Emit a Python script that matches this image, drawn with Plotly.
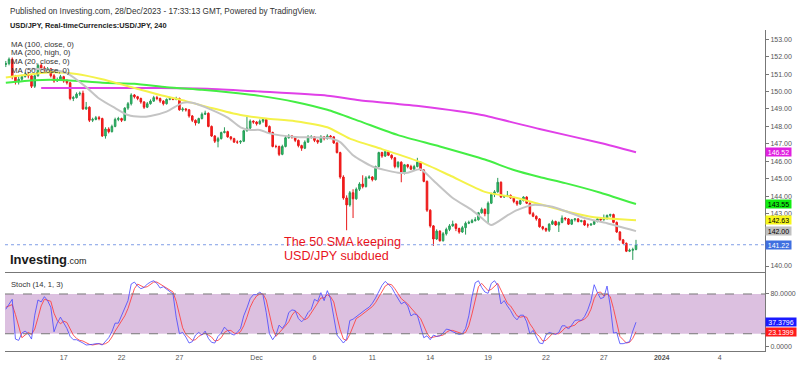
import pandas as pd
import plotly.graph_objects as go

# ---------------- data ----------------
bar_days = pd.bdate_range("2023-11-14", "2023-12-28")
bar_times = [d + pd.Timedelta(hours=4 * k) for d in bar_days for k in range(6)][:197]

opens = [151.55,151.60,151.85,150.85,150.55,150.70,150.85,151.00,150.90,150.30,150.90,151.50,151.35,151.25,151.30,150.90,150.60,150.65,150.85,150.60,
         150.50,149.60,149.65,149.85,149.90,149.00,149.10,148.35,148.40,148.50,148.45,147.45,147.85,147.70,148.00,148.40,148.45,148.35,149.05,149.30,
         149.80,149.70,149.60,149.40,149.10,149.30,149.45,149.65,149.60,149.45,149.30,149.55,149.60,149.55,149.60,148.95,149.00,148.95,148.60,148.35,
         148.20,148.45,148.70,148.75,148.00,147.45,147.15,147.30,147.65,147.70,147.40,147.30,147.10,147.10,147.15,147.75,147.90,148.30,148.25,148.15,
         148.30,148.40,148.00,147.65,146.85,146.85,146.40,146.85,147.35,147.45,147.40,147.20,146.90,146.75,147.10,147.40,147.40,147.20,147.10,147.40,
         147.30,147.45,147.40,147.05,146.50,145.10,143.90,143.50,144.20,143.85,144.40,144.70,144.55,145.05,145.10,144.95,145.70,146.50,146.30,146.55,
         146.35,146.20,145.70,145.95,145.30,145.80,145.70,145.55,145.70,145.95,145.50,144.85,143.20,142.30,141.55,142.00,141.45,141.85,142.10,142.30,
         142.40,142.15,141.95,142.20,142.45,142.50,142.60,142.65,143.05,143.25,143.00,143.60,144.10,144.25,144.80,143.95,144.00,144.05,143.90,143.70,
         143.55,143.75,143.95,143.60,143.00,142.85,142.70,142.25,142.15,142.05,142.40,142.55,142.35,142.50,142.75,142.70,142.40,142.65,142.70,142.55,
         142.60,142.35,142.35,142.40,142.55,142.70,142.65,142.75,142.90,142.95,142.50,141.95,141.50,141.30,140.85,140.90,140.95]
highs = [151.75,151.95,151.95,150.95,150.85,150.95,151.10,151.10,150.95,151.00,151.60,151.60,151.45,151.40,151.35,151.00,150.80,150.95,150.90,150.70,
         150.55,149.75,149.95,150.00,150.05,149.40,149.15,148.50,148.60,148.60,148.50,147.95,147.95,148.10,148.50,148.55,148.50,149.10,149.40,149.90,
         149.85,149.75,149.65,149.45,149.40,149.55,149.75,149.75,149.65,149.50,149.60,149.70,149.65,149.70,149.65,149.10,149.05,149.00,148.65,148.40,
         148.50,148.80,148.90,148.80,148.05,147.50,147.40,147.70,147.95,147.75,147.45,147.35,147.20,147.20,147.80,148.55,148.40,148.35,148.30,148.40,
         148.45,148.45,148.05,147.70,146.95,146.90,146.95,147.45,147.55,147.50,147.45,147.25,146.95,147.20,147.50,147.50,147.45,147.25,147.50,147.45,
         147.55,147.50,147.45,147.10,146.55,145.20,144.05,144.30,144.40,144.50,144.80,145.20,145.15,145.20,145.15,145.75,146.55,146.55,146.65,146.60,
         146.40,146.25,146.00,146.00,145.85,145.85,145.80,145.80,146.20,146.00,145.55,144.90,143.25,142.35,142.10,142.05,141.95,142.20,142.40,142.60,
         142.45,142.20,142.30,142.55,142.60,142.70,142.80,143.10,143.35,143.30,143.70,144.20,144.35,145.05,144.85,144.05,144.30,144.10,143.95,143.75,
         143.80,144.00,144.00,143.65,143.10,142.90,142.75,142.30,142.20,142.45,142.65,142.60,142.55,142.90,142.80,142.75,142.70,142.75,142.75,142.65,
         142.65,142.45,142.45,142.60,142.75,142.75,142.95,142.95,143.00,143.00,142.55,142.00,141.55,141.35,141.00,141.05,141.50]
lows = [151.40,151.50,150.70,150.40,150.40,150.60,150.80,150.75,150.20,150.20,150.85,151.30,151.15,151.20,150.80,150.50,150.55,150.60,150.50,150.40,
        149.50,149.45,149.60,149.75,148.95,148.95,148.25,148.25,148.35,148.35,147.40,147.30,147.60,147.65,147.95,148.30,148.25,148.30,148.95,149.20,
        149.60,149.50,149.30,149.00,149.05,149.25,149.40,149.50,149.35,149.20,149.25,149.50,149.50,149.50,148.90,148.85,148.85,148.50,148.25,148.05,
        148.15,148.40,148.65,147.95,147.40,147.05,146.80,147.25,147.60,147.35,147.20,147.05,147.00,147.00,147.10,147.70,147.85,148.15,148.05,148.10,
        148.20,147.95,147.60,146.80,146.75,146.30,146.35,146.80,147.30,147.30,147.10,146.80,146.60,146.70,147.05,147.30,147.10,147.00,147.05,147.20,
        147.25,147.30,147.00,146.45,145.00,143.80,142.05,143.40,142.75,143.80,144.30,144.45,144.50,145.00,144.85,144.90,145.65,146.20,146.25,146.30,
        146.10,145.60,145.60,144.80,145.25,145.60,145.50,145.50,145.65,145.45,144.80,143.10,142.20,141.15,141.50,141.40,141.40,141.75,142.00,142.25,
        142.00,141.85,141.90,141.80,142.40,142.45,142.55,142.60,143.00,142.85,142.40,143.55,143.95,144.20,143.90,143.90,143.95,143.85,143.60,143.45,
        143.50,143.70,143.55,142.95,142.80,142.60,142.20,142.05,141.95,141.95,142.35,142.30,141.95,142.45,142.60,142.35,142.35,142.55,142.50,142.50,
        142.30,142.20,142.30,142.35,142.50,142.55,142.60,142.65,142.80,142.45,141.90,141.45,141.25,140.80,140.80,140.35,140.90]
closes = [151.60,151.85,150.85,150.55,150.70,150.85,151.00,150.90,150.30,150.90,151.50,151.35,151.25,151.30,150.90,150.60,150.65,150.85,150.60,150.50,
          149.60,149.65,149.85,149.90,149.00,149.10,148.35,148.40,148.50,148.45,147.45,147.85,147.70,148.00,148.40,148.45,148.35,149.05,149.30,149.80,
          149.70,149.60,149.40,149.10,149.30,149.45,149.65,149.60,149.45,149.30,149.55,149.60,149.55,149.60,148.95,149.00,148.95,148.60,148.35,148.20,
          148.45,148.70,148.75,148.00,147.45,147.15,147.30,147.65,147.70,147.40,147.30,147.10,147.10,147.15,147.75,147.90,148.30,148.25,148.15,148.30,
          148.40,148.00,147.65,146.85,146.85,146.40,146.85,147.35,147.45,147.40,147.20,146.90,146.75,147.10,147.40,147.40,147.20,147.10,147.40,147.30,
          147.45,147.40,147.05,146.50,145.10,143.90,143.50,144.20,143.85,144.40,144.70,144.55,145.05,145.10,144.95,145.70,146.50,146.30,146.55,146.35,
          146.20,145.70,145.95,145.30,145.80,145.70,145.55,145.70,145.95,145.50,144.85,143.20,142.30,141.55,142.00,141.45,141.85,142.10,142.30,142.40,
          142.15,141.95,142.20,142.45,142.50,142.60,142.65,143.05,143.25,143.00,143.60,144.10,144.25,144.80,143.95,144.00,144.05,143.90,143.70,143.55,
          143.75,143.95,143.60,143.00,142.85,142.70,142.25,142.15,142.05,142.40,142.55,142.35,142.50,142.75,142.70,142.40,142.65,142.70,142.55,142.60,
          142.35,142.35,142.40,142.55,142.70,142.65,142.75,142.90,142.95,142.50,141.95,141.50,141.30,140.85,140.90,140.95,141.22]

ma100_bars = [0, 9, 19, 30, 40, 50, 61, 70, 79, 90, 100, 110, 122, 135, 149, 158, 166, 174, 185, 196]
ma100_vals = [150.5, 150.65, 150.65, 150.5, 150.45, 150.25, 150.1, 149.95, 149.75, 149.4, 148.95, 148.3, 147.5, 146.85, 146.1, 145.5, 145.1, 144.75, 144.2, 143.55]
ma200_bars = [11, 30, 48, 64, 79, 100, 110, 129, 148, 166, 185, 196]
ma200_vals = [150.2, 150.2, 150.2, 150.15, 150.0, 149.76, 149.5, 149.15, 148.65, 147.85, 147.05, 146.52]
ma50_bars = [0, 14, 22, 30, 40, 48, 56, 64, 73, 81, 90, 100, 107, 117, 129, 138, 149, 159, 165, 175, 183, 196]
ma50_vals = [150.8, 151.1, 151.0, 150.7, 150.2, 149.8, 149.45, 149.05, 148.65, 148.45, 148.3, 147.95, 147.3, 146.7, 145.95, 145.2, 144.25, 143.9, 143.6, 143.1, 142.8, 142.63]
ma20_bars = [8, 16, 19, 25, 29, 34, 38, 42, 45, 50, 55, 58, 64, 69, 73, 76, 79, 82, 90, 100, 104, 108, 114, 122, 125, 129, 133, 139, 145, 148, 151, 156, 159, 164, 170, 180, 187, 196]
ma20_vals = [151.3, 151.2, 151.05, 150.25, 149.6, 149.05, 148.65, 148.55, 148.6, 148.85, 149.35, 149.35, 148.95, 148.5, 147.95, 147.8, 147.8, 147.6, 147.4, 147.35, 147.1, 146.35, 145.7, 145.35, 145.35, 145.55, 144.9, 143.9, 143.2, 142.75, 142.35, 142.9, 143.2, 143.5, 143.4, 142.75, 142.45, 142.0]

stoch_k = [57,64,72,12,10,21,24,20,12,48,71,68,76,70,60,23,36,45,37,28,16,11,11,9,6,3,3,4,5,5,3,8,14,23,36,36,47,57,70,95,
           98,92,88,90,95,98,100,96,89,91,87,83,80,45,20,22,15,6,8,18,22,18,24,13,7,6,16,21,30,25,20,18,22,28,47,59,73,79,79,83,
           78,52,20,11,18,33,28,35,52,56,55,43,38,43,52,57,72,69,82,70,85,73,47,18,12,6,12,40,42,46,50,54,57,60,66,74,84,93,99,94,
           90,81,73,65,68,62,47,50,48,31,14,17,11,18,16,17,21,27,26,23,21,19,20,28,47,76,97,100,90,83,81,96,100,93,65,70,62,55,46,41,
           48,48,38,20,25,16,6,5,18,22,20,19,22,32,32,27,33,40,41,40,46,56,70,94,82,73,75,92,62,21,22,5,5,7,8,24,37.3796]
stoch_d = [60,62,64,49,31,14,18,22,19,27,44,62,72,71,69,51,40,35,39,37,27,18,13,10,9,6,4,3,4,5,4,5,8,15,24,32,40,47,58,74,
           88,95,93,90,91,94,98,98,95,92,89,87,83,69,48,29,19,14,10,11,16,19,21,18,15,9,10,14,22,25,25,21,20,23,32,45,60,70,77,80,
           80,71,50,28,16,21,26,32,38,48,54,51,45,41,44,51,60,66,74,74,79,76,68,46,26,12,10,19,31,43,46,50,54,57,61,67,75,84,92,95,
           94,88,81,73,69,65,59,53,48,43,31,21,14,15,15,17,18,22,25,25,23,21,20,22,32,50,73,91,96,91,85,87,92,96,86,76,66,62,54,47,
           45,46,45,35,28,20,16,9,10,15,20,20,20,24,29,30,31,33,38,40,42,47,57,73,82,83,77,80,76,58,35,16,11,6,7,13,23.1399]

price_ticks = [140, 141, 142, 143, 144, 145, 146, 147, 148, 149, 150, 151, 152, 153]
price_tick_text = ["140.00", "", "", "143.00", "144.00", "145.00", "146.00", "147.00", "148.00",
                   "149.00", "150.00", "151.00", "152.00", "153.00"]
x_tick_dates = ["2023-11-17", "2023-11-22", "2023-11-27", "2023-12-01", "2023-12-06", "2023-12-11",
                "2023-12-14", "2023-12-19", "2023-12-22", "2023-12-27", "2024-01-01", "2024-01-04"]
x_tick_text = ["17", "22", "27", "Dec", "6", "11", "14", "19", "22", "27", "<b>2024</b>", "4"]

# ---------------- figure ----------------
FONT = "Liberation Sans, Arial, sans-serif"
fig = go.Figure()

def ma_trace(bars, vals, color):
    return go.Scatter(x=[bar_times[b] for b in bars], y=vals, mode="lines",
                      line=dict(color=color, width=2, shape="spline", smoothing=0.6),
                      xaxis="x", yaxis="y", hoverinfo="skip", showlegend=False)

fig.add_trace(ma_trace(ma200_bars, ma200_vals, "#e040e8"))
fig.add_trace(ma_trace(ma100_bars, ma100_vals, "#44ee44"))
fig.add_trace(ma_trace(ma50_bars, ma50_vals, "#f4f24a"))
fig.add_trace(ma_trace(ma20_bars, ma20_vals, "#c4c4c4"))

fig.add_trace(go.Candlestick(
    x=bar_times, open=opens, high=highs, low=lows, close=closes,
    increasing=dict(line=dict(color="#2a9a58", width=1), fillcolor="#22cc6c"),
    decreasing=dict(line=dict(color="#e81818", width=1), fillcolor="#ff1a1a"),
    whiskerwidth=0, xaxis="x", yaxis="y", showlegend=False, hoverinfo="skip"))

fig.add_trace(go.Scatter(x=bar_times, y=stoch_d, mode="lines",
                         line=dict(color="rgba(255,60,60,0.85)", width=1),
                         xaxis="x2", yaxis="y2", showlegend=False, hoverinfo="skip"))
fig.add_trace(go.Scatter(x=bar_times, y=stoch_k, mode="lines",
                         line=dict(color="rgba(70,70,255,0.8)", width=1),
                         xaxis="x2", yaxis="y2", showlegend=False, hoverinfo="skip"))

x_range = ["2023-11-13 23:00", "2024-01-08 08:30"]
breaks = [dict(bounds=["sat", "mon"])]
axis_font = dict(family=FONT, size=7, color="#555555")

fig.update_layout(
    width=800, height=366,
    margin=dict(l=5, r=35, t=30, b=15),
    paper_bgcolor="white", plot_bgcolor="white",
    hovermode=False, showlegend=False,
    font=dict(family=FONT),
    xaxis=dict(domain=[0, 1], type="date", range=x_range, rangebreaks=breaks, anchor="y",
               showticklabels=False, showgrid=False, zeroline=False, rangeslider=dict(visible=False),
               showline=False),
    xaxis2=dict(domain=[0, 1], type="date", range=x_range, rangebreaks=breaks, anchor="y2",
                tickvals=x_tick_dates, ticktext=x_tick_text, tickfont=axis_font, ticks="",
                showgrid=False, zeroline=False, showline=True, linecolor="#777777", linewidth=1, mirror=True),
    yaxis=dict(domain=[0.246, 1], side="right", range=[139.656, 153.524],
               tickvals=price_ticks, ticktext=price_tick_text,
               ticks="outside", ticklen=3, tickcolor="#777777", tickfont=axis_font,
               showline=True, linecolor="#777777", showgrid=False, zeroline=False),
    yaxis2=dict(domain=[0, 0.243], side="right", range=[-6.04, 111.7], tickvals=[0, 80],
                tickformat=".4f", ticks="outside", ticklen=3, tickcolor="#777777", tickfont=axis_font,
                showline=True, linecolor="#777777", showgrid=False, zeroline=False),
)

# stochastic band and level lines
fig.add_shape(type="rect", xref="x2 domain", yref="y2", x0=0, x1=1, y0=20, y1=80,
              fillcolor="#dcc0e0", line=dict(width=0), layer="below")
for lvl in (20, 80):
    fig.add_shape(type="line", xref="x2 domain", yref="y2", x0=0, x1=1, y0=lvl, y1=lvl,
                  line=dict(color="#777777", width=1, dash="dash"))
# last price dotted line
fig.add_shape(type="line", xref="x domain", yref="y", x0=0, x1=1, y0=closes[-1], y1=closes[-1],
              line=dict(color="#7f9de6", width=1, dash="dot"))

def px_x(x):
    return (x - 5) / 760.0

def px_y(y):
    return 1 - (y - 30) / 321.0

texts = [
    ("Published on Investing.com, 28/Dec/2023 - 17:33:13 GMT, Powered by TradingView.", 9, 11, 8.2, "#333333"),
    ("<b>USD/JPY, Real-timeCurrencies:USD/JPY, 240</b>", 9, 25, 7.4, "#222222"),
    ("MA (100, close, 0)", 10, 44, 7.8, "#333333"),
    ("MA (200, high, 0)", 10, 52.7, 7.8, "#333333"),
    ("MA (20, close, 0)", 10, 61.4, 7.8, "#333333"),
    ("MA (50, close, 0)", 10, 70, 7.8, "#333333"),
    ("Stoch (14, 1, 3)", 10, 284, 7.6, "#333333"),
    ("The 50 SMA keeping", 283, 242, 12.6, "#e8141c"),
    ("USD/JPY subdued", 283, 256, 12.6, "#e8141c"),
    ("<b>Investing</b><span style='font-size:9px'>.com</span>", 9, 259, 13, "#1a1a1a"),
]
for t, x, y, s, c in texts:
    fig.add_annotation(text=t, xref="paper", yref="paper", x=px_x(x), y=px_y(y),
                       xanchor="left", yanchor="middle", showarrow=False,
                       font=dict(family=FONT, size=s, color=c), borderpad=0)

# right-side value tags
tags = [
    (ma200_vals[-1], "y", "#e020e0", "white", 25, f"{ma200_vals[-1]:.2f}"),
    (ma100_vals[-1], "y", "#11ee11", "black", 25, f"{ma100_vals[-1]:.2f}"),
    (ma50_vals[-1], "y", "#f7f71a", "black", 25, f"{ma50_vals[-1]:.2f}"),
    (ma20_vals[-1], "y", "#c0c0c0", "black", 25, f"{ma20_vals[-1]:.2f}"),
    (closes[-1], "y", "#3f6fe0", "white", 25, f"{closes[-1]:.2f}"),
    (stoch_k[-1], "y2", "#1a1aff", "white", 30, f"{stoch_k[-1]:.4f}"),
    (stoch_d[-1], "y2", "#ff1a1a", "white", 30, f"{stoch_d[-1]:.4f}"),
]
for v, yr, bg, fc, w, label in tags:
    fig.add_annotation(text=label, xref="paper", yref=yr, x=1, y=v, xanchor="left", yanchor="middle",
                       showarrow=False, bgcolor=bg, width=w, height=8, borderpad=0,
                       font=dict(family=FONT, size=7, color=fc), align="center")

fig.write_html("out.html", config={"displayModeBar": False},
               post_script="document.body.style.margin='0';")
